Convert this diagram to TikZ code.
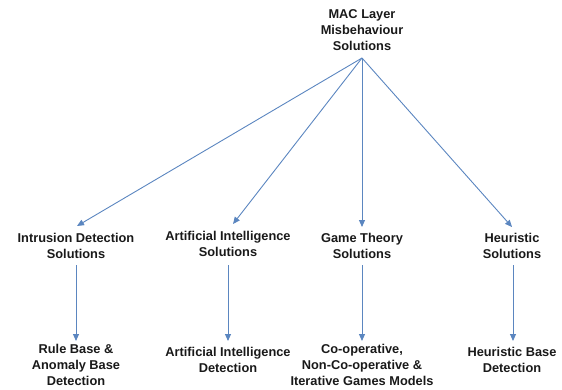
\documentclass[tikz,border=0pt]{standalone}
\usepackage{fontspec}
\setmainfont{Liberation Sans}
\usetikzlibrary{arrows.meta}
\definecolor{arrowblue}{HTML}{5B86C0}
\tikzset{
  lbl/.style={font=\bfseries\fontsize{12.8}{15.8}\selectfont, align=center, inner sep=0pt, text=black!90},
  conn/.style={draw=arrowblue, line width=0.9pt, -{Triangle[length=7pt,width=6pt]}}
}
\begin{document}
\begin{tikzpicture}[x=1pt,y=-1pt]
\useasboundingbox (0,0) rectangle (562,389);
\node[lbl] (root) at (362,30) {MAC Layer\\Misbehaviour\\Solutions};
\coordinate (apex) at (362,58);
\node[lbl] (ids) at (76,246) {Intrusion Detection\\Solutions};
\node[lbl] (ai) at (228,244) {Artificial Intelligence\\Solutions};
\node[lbl] (gt) at (362,246) {Game Theory\\Solutions};
\node[lbl] (he) at (512,246) {Heuristic\\Solutions};
\node[lbl] (rb) at (76,365) {Rule Base \&\\Anomaly Base\\Detection};
\node[lbl] (aid) at (228,360) {Artificial Intelligence\\Detection};
\node[lbl] (co) at (362,365) {Co-operative,\\Non-Co-operative \&\\Iterative Games Models};
\node[lbl] (hb) at (512,360) {Heuristic Base\\Detection};
\coordinate (t1) at (77,226);
\coordinate (t2) at (233,224);
\coordinate (t3) at (362,227);
\coordinate (t4) at (512,227);
\draw[conn] (apex) -- (t1);
\draw[conn] (apex) -- (t2);
\draw[conn] (apex) -- (t3);
\draw[conn] (apex) -- (t4);
\draw[conn] (76,265) -- (76,341);
\draw[conn] (228,265) -- (228,341);
\draw[conn] (362,265) -- (362,341);
\draw[conn] (513,265) -- (513,341);
\end{tikzpicture}
\end{document}
